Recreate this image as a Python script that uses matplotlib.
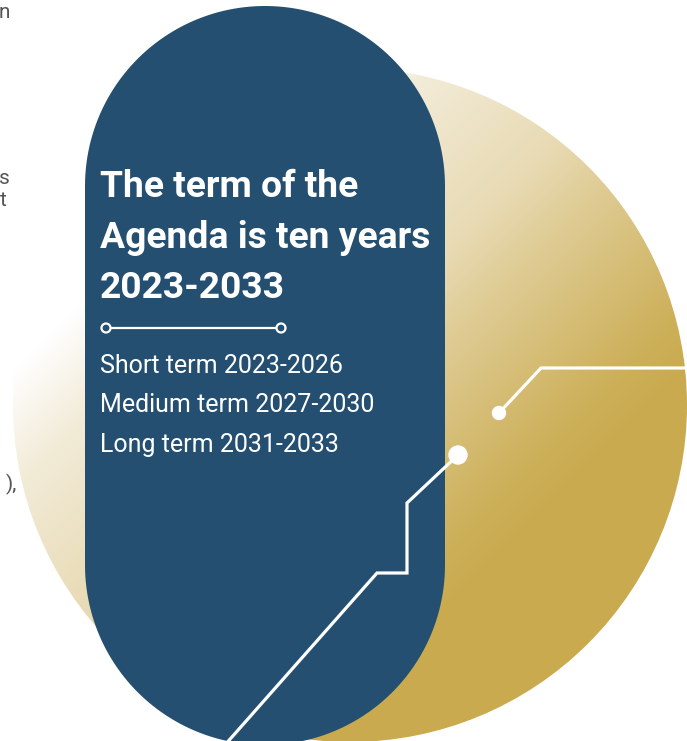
import matplotlib.pyplot as plt
import numpy as np
from matplotlib.patches import Circle, Polygon
from matplotlib.colors import LinearSegmentedColormap

# content
title_lines = ["The term of the", "Agenda is ten years"]
terms = ["Short term", "Medium term", "Long term"]
term_start = [2023, 2027, 2031]
term_end = [2026, 2030, 2033]
# fragments of the neighbouring column that show at the left edge
side_text = ["n", "s", "t", "),"]
side_y = [13, 179, 201, 484]
side_x = [10, 10, 7, 17]

W, H = 687, 741
navy = "#244f70"
gold = "#c9aa4e"

fig = plt.figure(figsize=(W / 100, H / 100), dpi=100)
ax = fig.add_axes([0, 0, 1, 1])
ax.set_xlim(0, W)
ax.set_ylim(H, 0)
ax.set_aspect("equal")
ax.axis("off")

# gold circle with diagonal gradient (45 degrees, light top-left -> gold bottom-right)
cx, cy, r = 350, 405, 337
X, Y = np.meshgrid(np.arange(W) + 0.5, np.arange(H) + 0.5)
t = np.clip((0.5 * X + 0.5 * Y - 190) / 340, 0, 1)
cmap = LinearSegmentedColormap.from_list(
    "goldgrad",
    [(0, "#ffffff"), (0.18, "#f2ebd7"), (0.47, "#e8dab3"), (0.6, "#dfcc95"),
     (0.9, "#cdb05a"), (1, gold)],
)
img = ax.imshow(cmap(t), extent=(0, W, H, 0), origin="upper", zorder=1, interpolation="bilinear")
circ = Circle((cx, cy), r, transform=ax.transData, facecolor="none", edgecolor="none")
ax.add_patch(circ)
img.set_clip_path(circ)

# navy pill (stadium shape)
pc, pr, ptop, pbot = 265, 180, 186, 565
th = np.linspace(0, np.pi, 100)
top = np.column_stack([pc + pr * np.cos(th), ptop - pr * np.sin(th)])
bot = np.column_stack([pc - pr * np.cos(th), pbot + pr * np.sin(th)])
ax.add_patch(Polygon(np.vstack([top, bot]), closed=True, facecolor=navy, edgecolor="none", zorder=2))

# connector lines
lw = 2.3
ax.plot([499, 541, W + 5], [413, 368, 368], color="white", lw=lw, zorder=3, solid_capstyle="butt")
ax.plot([458, 407, 407, 377, 224], [455, 503, 573, 573, 746], color="white", lw=lw, zorder=3,
        solid_joinstyle="miter")
ax.add_patch(Circle((499, 413), 6.5, color="white", zorder=4))
ax.add_patch(Circle((458, 455), 9, color="white", zorder=4))

# divider under the title
ax.plot([106, 281], [328, 328], color="white", lw=1.6, zorder=3)
for x in (106, 281):
    ax.add_patch(Circle((x, 328), 4.5, facecolor=navy, edgecolor="white", lw=1.6, zorder=4))

# title
title = title_lines + ["%d-%d" % (min(term_start), max(term_end))]
for i, line in enumerate(title):
    ax.text(100, 197 + i * 50.5, line, color="white", fontsize=26.8, fontweight="bold",
            family="Roboto", va="baseline", ha="left", zorder=5)

# term list
for i, (name, a, b) in enumerate(zip(terms, term_start, term_end)):
    ax.text(100, 373 + i * 39.5, "%s %d-%d" % (name, a, b), color="white", fontsize=18,
            family="Roboto", va="baseline", ha="left", zorder=5)

# side column fragments
for s, x, y in zip(side_text, side_x, side_y):
    ax.text(x, y, s, color="#555555", fontsize=15, family="Roboto",
            va="center", ha="right", zorder=5)

fig.savefig("out.png", dpi=100)
